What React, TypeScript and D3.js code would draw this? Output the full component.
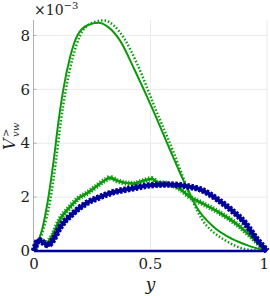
import React from "react";
import * as d3 from "d3";

const width = 270;
const height = 296;
const margin = { top: 20, right: 3, bottom: 45, left: 34 };
const green = "#0a9a0a";
const blue = "#00009a";
const serifFont = "'DejaVu Serif', 'Liberation Serif', serif";

// green solid
const solidX = [0, 0.035, 0.06, 0.085, 0.105, 0.126, 0.155, 0.186, 0.23, 0.276, 0.32, 0.37, 0.433, 0.51, 0.584, 0.648, 0.7, 0.77, 0.85, 0.92, 1];
const solidV = [0, 0.8, 1.9, 3.4, 4.8, 6.0, 7.2, 8.0, 8.38, 8.47, 8.3, 7.8, 6.7, 5.25, 3.75, 2.5, 1.6, 0.9, 0.45, 0.2, 0];
// green dotted
const dotX = [0, 0.04, 0.07, 0.095, 0.115, 0.137, 0.167, 0.198, 0.245, 0.3, 0.345, 0.39, 0.44, 0.52, 0.595, 0.655, 0.7, 0.74, 0.77, 0.82, 0.884, 0.94, 1];
const dotV = [0, 0.8, 1.9, 3.4, 4.8, 6.0, 7.2, 8.0, 8.45, 8.56, 8.35, 7.85, 7.0, 5.3, 3.75, 2.4, 1.5, 0.95, 0.7, 0.4, 0.12, 0.03, 0];
// green with plus markers
const plusX = [0, 0.026, 0.055, 0.08, 0.11, 0.155, 0.19, 0.226, 0.26, 0.305, 0.326, 0.36, 0.425, 0.46, 0.505, 0.53, 0.57, 0.627, 0.67, 0.72, 0.8, 0.863, 0.93, 0.977, 1];
const plusV = [0, 0.4, 0.3, 0.6, 1.15, 1.64, 1.95, 2.14, 2.35, 2.63, 2.72, 2.6, 2.5, 2.58, 2.68, 2.55, 2.5, 2.3, 2.0, 1.78, 1.4, 1.04, 0.55, 0.16, 0];
// blue with diamond markers
const diaX = [0, 0.02, 0.06, 0.085, 0.11, 0.168, 0.226, 0.283, 0.318, 0.425, 0.498, 0.575, 0.62, 0.67, 0.71, 0.79, 0.85, 0.906, 0.955, 0.99, 1];
const diaV = [0, 0.4, 0.22, 0.45, 0.85, 1.4, 1.78, 2.0, 2.12, 2.33, 2.44, 2.47, 2.45, 2.38, 2.3, 1.9, 1.5, 1.04, 0.45, 0.1, 0];
// blue flat line
const flatX = [0, 1];
const flatV = [0, 0];

const xTicks = [0, 0.5, 1];
const xTickLabels = ["0", "0.5", "1"];
const yTicks = [0, 2, 4, 6, 8];
const yTickLabels = ["0", "2", "4", "6", "8"];

const xScale = d3.scaleLinear().domain([0, 1]).range([margin.left, width - margin.right]);
const yScale = d3.scaleLinear().domain([0, 8.575]).range([height - margin.bottom, margin.top]);

const makeLine = (xs: number[], vs: number[], curve = d3.curveMonotoneX) =>
  d3
    .line<number>()
    .x((d, i) => xScale(xs[i]))
    .y(d => yScale(d))
    .curve(curve)(vs) || "";

export default function App() {
  const x0 = xScale(0);
  const x1 = xScale(1);
  const yTop = yScale(8.575);
  const yBot = yScale(0);
  return (
    <svg width={width} height={height} style={{ position: "absolute", left: 0, top: 0 }}>
      <rect width={width} height={height} fill="white" />
      {/* grid */}
      {yTicks.slice(1).map(t => (
        <line key={"gy" + t} x1={x0} x2={x1} y1={yScale(t)} y2={yScale(t)} stroke="#ebebeb" strokeWidth={1} />
      ))}
      {xTicks.slice(1).map(t => (
        <line key={"gx" + t} x1={xScale(t)} x2={xScale(t)} y1={yTop} y2={yBot} stroke="#ebebeb" strokeWidth={1} />
      ))}
      {/* left axis */}
      <line x1={x0 - 0.5} x2={x0 - 0.5} y1={yTop} y2={yBot} stroke="#b0b0b0" strokeWidth={1} />
      {yTicks.map(t => (
        <line key={"ty" + t} x1={x0 - 0.5} x2={x0 + 2.5} y1={yScale(t)} y2={yScale(t)} stroke="#b0b0b0" />
      ))}
      {/* series */}
      <path d={makeLine(solidX, solidV)} fill="none" stroke={green} strokeWidth={2} />
      <path d={makeLine(dotX, dotV)} fill="none" stroke={green} strokeWidth={2.5} strokeDasharray="1.5 2" />
      <path d={makeLine(plusX, plusV)} fill="none" stroke={green} strokeWidth={2.8} />
      <path d={makeLine(plusX, plusV)} fill="none" stroke={green} strokeWidth={5.5} strokeDasharray="1.2 1.8" />
      <path d={makeLine(diaX, diaV)} fill="none" stroke={blue} strokeWidth={4} />
      <path d={makeLine(diaX, diaV)} fill="none" stroke={blue} strokeWidth={6.5} strokeDasharray="2.5 1.5" />
      <path d={makeLine(flatX, flatV, d3.curveLinear)} fill="none" stroke={blue} strokeWidth={2.5} />
      {/* tick labels */}
      {yTicks.map((t, i) => (
        <text key={"ly" + t} x={x0 - 4} y={yScale(t)} dy="0.35em" textAnchor="end" fontSize={15} fill="#222" fontFamily={serifFont}>
          {yTickLabels[i]}
        </text>
      ))}
      {xTicks.map((t, i) => {
        const last = i === xTicks.length - 1;
        return (
          <text
            key={"lx" + t}
            x={last ? width - 1 : xScale(t)}
            y={yBot + 18}
            textAnchor={last ? "end" : "middle"}
            fontSize={15}
            fill="#222"
            fontFamily={serifFont}
          >
            {xTickLabels[i]}
          </text>
        );
      })}
      {/* exponent */}
      <text x={x0} y={15} fontSize={14} fill="#222" fontFamily={serifFont}>
        ×10
        <tspan dy={-6} fontSize={10}>−3</tspan>
      </text>
      {/* axis labels */}
      <text x={(x0 + x1) / 2} y={height - 6} textAnchor="middle" fontSize={17} fontStyle="italic" fill="#222" fontFamily={serifFont}>
        y
      </text>
      <g transform="translate(15,150) rotate(-90)" fill="#222" fontFamily={serifFont}>
        <text x={0} y={0} fontSize={16} fontStyle="italic">V</text>
        <text x={13} y={-6} fontSize={10}>&gt;</text>
        <text x={13} y={4} fontSize={10} fontStyle="italic">vw</text>
      </g>
    </svg>
  );
}
